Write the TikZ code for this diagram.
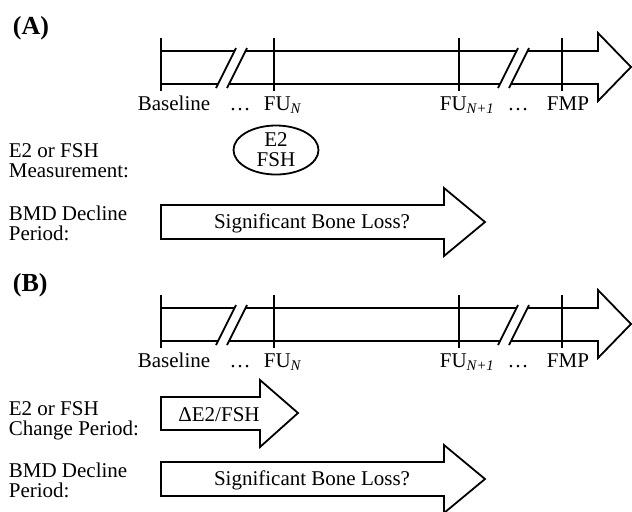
\documentclass[tikz,border=0pt]{standalone}
\usepackage{fontspec}
\setmainfont{Liberation Serif}
\usetikzlibrary{shapes.geometric}

\begin{document}
\begin{tikzpicture}[x=0.5pt, y=-0.5pt, line width=0.9pt, every node/.style={inner sep=0pt, font=\fontsize{10.5}{10}\selectfont}]

\tikzset{
    panel/.style={anchor=base west, font=\fontsize{13}{13}\selectfont\bfseries},
    lbl/.style={anchor=base west},
    rowlbl/.style={anchor=base west, align=left},
    meas/.style={draw, ellipse, line width=0.9pt, minimum width=42.5pt, minimum height=24.5pt, align=center}
}

\useasboundingbox (0,0) rectangle (632,511);

\foreach \p/\dy in {A/0,B/257} {
    \node[panel] (lab\p) at (12,{34+\dy}) {(\p)};

    % time line
    \draw[line join=miter] (161,{51+\dy}) -- (598,{51+\dy}) -- (598,{33+\dy}) -- (631,{67+\dy})
        -- (598,{101+\dy}) -- (598,{84+\dy}) -- (161,{84+\dy});
    \foreach \bx in {216,498} {
        \fill[white] (\bx,{88+\dy}) -- ({\bx+20},{48+\dy}) -- ({\bx+31},{48+\dy}) -- ({\bx+11},{88+\dy}) -- cycle;
        \draw (\bx,{88+\dy}) -- ({\bx+20},{48+\dy});
        \draw ({\bx+11},{88+\dy}) -- ({\bx+31},{48+\dy});
    }
    \foreach \t/\tx in {base/161,fun/274,funn/459,fmp/562} {
        \coordinate (\t\p) at (\tx,{38+\dy});
        \draw (\t\p) -- ++(0,53);
    }

    \node[lbl] (basel\p) at (137,{110+\dy}) {Baseline};
    \node[anchor=base] (dotsa\p) at (240,{110+\dy}) {\dots};
    \node[lbl] (funl\p) at (263,{110+\dy}) {FU\textsubscript{\textit{N}}};
    \node[lbl] (funnl\p) at (439,{110+\dy}) {FU\textsubscript{\textit{N+1}}};
    \node[anchor=base] (dotsb\p) at (518,{110+\dy}) {\dots};
    \node[lbl] (fmpl\p) at (546,{110+\dy}) {FMP};

    % BMD decline
    \node[rowlbl] (bmdl\p) at (8,{240+\dy}) {BMD Decline\\Period:};
    \draw[line join=miter] (161,{205+\dy}) -- (444,{205+\dy}) -- (444,{188+\dy}) -- (485,{222+\dy})
        -- (444,{256+\dy}) -- (444,{239+\dy}) -- (161,{239+\dy}) -- cycle;
    \node (loss\p) at (312,{223+\dy}) {Significant Bone Loss?};
}

% (A) measurement
\node[rowlbl] (measl) at (8,177) {E2 or FSH\\Measurement:};
\node[meas] (e2fsh) at (276,150) {E2\\FSH};

% (B) change period
\node[rowlbl] (chgl) at (8,435) {E2 or FSH\\Change Period:};
\draw[line join=miter] (161,397) -- (260,397) -- (260,380) -- (298,413) -- (260,447) -- (260,430) -- (161,430) -- cycle;
\node (delta) at (219,415) {ΔE2/FSH};

\end{tikzpicture}
\end{document}
